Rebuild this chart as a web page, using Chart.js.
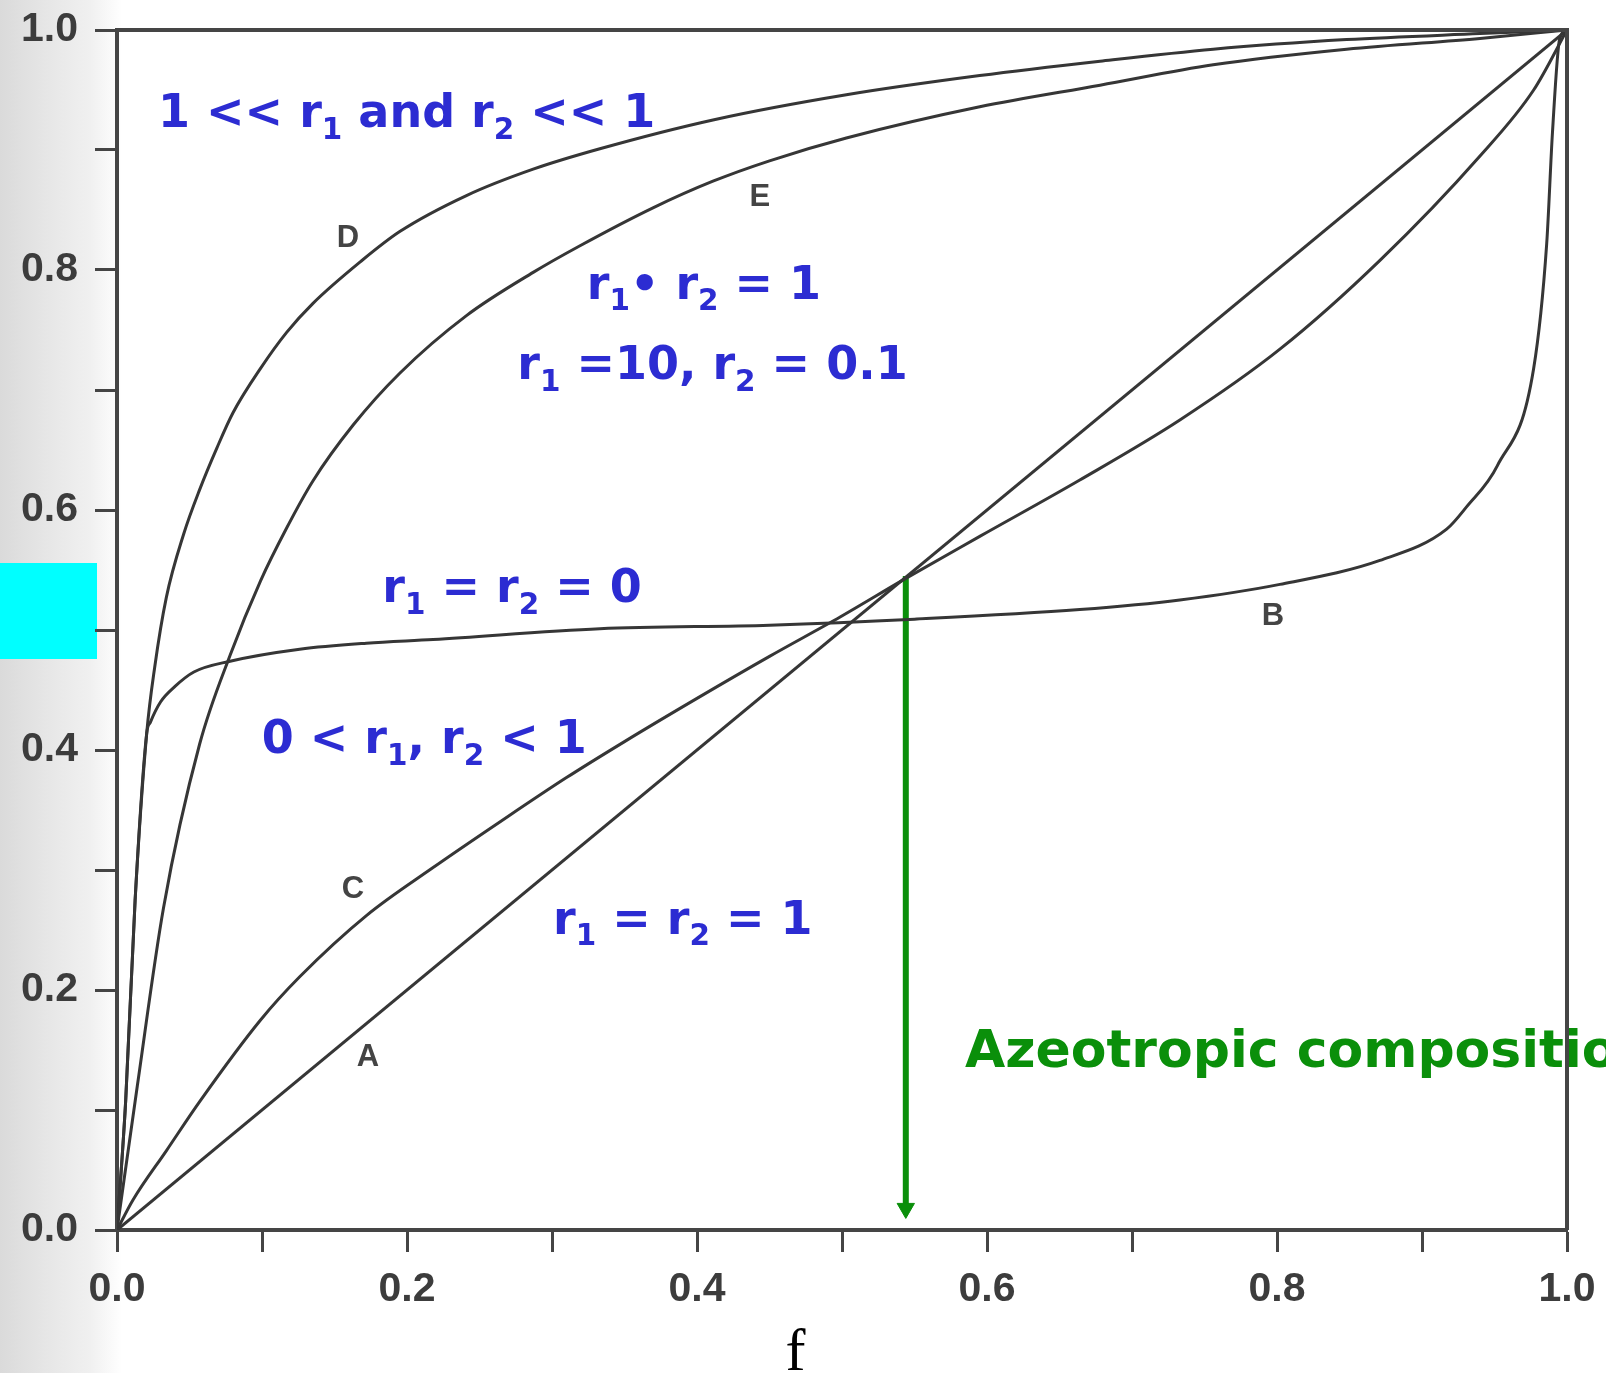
<!DOCTYPE html>
<html>
<head>
<meta charset="utf-8">
<title>Copolymer composition curves</title>
<script src="https://cdn.jsdelivr.net/npm/chart.js@4.4.1/dist/chart.umd.min.js"></script>
<style>
  html, body { margin: 0; padding: 0; }
  body {
    width: 1606px; height: 1373px; overflow: hidden;
    background: linear-gradient(90deg, #dadada 0px, #e6e6e6 45px, #f0f0f0 90px, #ffffff 122px);
  }
  #wrap { position: relative; width: 1606px; height: 1373px; }
  #patch { position: absolute; left: 0; top: 563px; width: 97px; height: 96px; background: #00ffff; }
  #chart { position: absolute; left: 0; top: 0; }
</style>
</head>
<body>
<div id="wrap">
  <div id="patch"></div>
  <canvas id="chart" width="1606" height="1373"></canvas>
</div>
<script>
// feed fraction f (x) against copolymer fraction F (y), one pair of arrays per curve
const fA = [0, 1];
const FA = [0, 1];

const fB = [0, 0.006, 0.0125, 0.0205, 0.023, 0.030, 0.040, 0.053, 0.078, 0.126, 0.172, 0.218, 0.333, 0.45, 0.55, 0.664, 0.733, 0.802, 0.871, 0.917, 0.931, 0.952, 0.977, 0.986, 0.990, 0.995, 1];
const FB = [0, 0.108, 0.275, 0.414, 0.423, 0.440, 0.453, 0.465, 0.474, 0.484, 0.489, 0.492, 0.501, 0.504, 0.509, 0.517, 0.525, 0.538, 0.558, 0.584, 0.603, 0.637, 0.718, 0.822, 0.915, 0.993, 1];

const fC = [0, 0.011, 0.034, 0.057, 0.099, 0.126, 0.172, 0.218, 0.264, 0.310, 0.35, 0.40, 0.45, 0.499, 0.544, 0.595, 0.664, 0.733, 0.802, 0.871, 0.940, 0.977, 1];
const FC = [0, 0.025, 0.066, 0.107, 0.175, 0.211, 0.262, 0.302, 0.340, 0.377, 0.407, 0.443, 0.478, 0.511, 0.543, 0.578, 0.625, 0.675, 0.734, 0.808, 0.895, 0.950, 1];

const fD = [0, 0.006, 0.0125, 0.0205, 0.026, 0.034, 0.046, 0.057, 0.069, 0.080, 0.099, 0.117, 0.135, 0.168, 0.195, 0.241, 0.287, 0.333, 0.411, 0.503, 0.595, 0.678, 0.756, 0.848, 0.940, 1];
const FD = [0, 0.108, 0.275, 0.414, 0.469, 0.527, 0.580, 0.617, 0.652, 0.681, 0.718, 0.748, 0.772, 0.807, 0.832, 0.862, 0.884, 0.901, 0.925, 0.946, 0.962, 0.974, 0.984, 0.992, 0.997, 1];

const fE = [0, 0.014, 0.032, 0.057, 0.078, 0.099, 0.117, 0.135, 0.163, 0.195, 0.241, 0.287, 0.319, 0.37, 0.411, 0.45, 0.503, 0.595, 0.678, 0.756, 0.848, 0.940, 1];
const FE = [0, 0.120, 0.268, 0.405, 0.479, 0.541, 0.585, 0.624, 0.671, 0.714, 0.762, 0.798, 0.820, 0.852, 0.874, 0.891, 0.910, 0.936, 0.954, 0.971, 0.984, 0.993, 1];

// azeotrope marker: drop line from the crossing point down to the f axis
const fAzeo = [0.544, 0.544];
const FAzeo = [0.545, 0.018];

const toPoints = (xs, ys) => xs.map((v, i) => ({ x: v, y: ys[i] }));

const BLUE = '#2c2cd2';
const GREEN = '#0a8f0a';
const INK = '#363636';
const AXIS = '#454545';

const blueFont = { family: '"DejaVu Sans", Verdana, sans-serif', weight: 'bold', size: 46, color: BLUE };
const letterFont = { family: '"Liberation Sans", Arial, sans-serif', weight: 'bold', size: 31, color: '#444' };

// text placed in data coordinates; [text, isSubscript]
const notes = [
  { ...blueFont, x: 0.0283, y: 0.919, parts: [['1 << r'], ['1', 1], [' and r'], ['2', 1], [' << 1']] },
  { ...blueFont, x: 0.324, y: 0.776, parts: [['r'], ['1', 1], ['\u2022 r'], ['2', 1], [' = 1']] },
  { ...blueFont, x: 0.276, y: 0.709, parts: [['r'], ['1', 1], [' =10, r'], ['2', 1], [' = 0.1']] },
  { ...blueFont, x: 0.183, y: 0.523, parts: [['r'], ['1', 1], [' = r'], ['2', 1], [' = 0']] },
  { ...blueFont, x: 0.0998, y: 0.3975, parts: [['0 < r'], ['1', 1], [', r'], ['2', 1], [' < 1']] },
  { ...blueFont, x: 0.3007, y: 0.2467, parts: [['r'], ['1', 1], [' = r'], ['2', 1], [' = 1']] },
  { family: '"DejaVu Sans", Verdana, sans-serif', weight: 'bold', size: 52, color: GREEN,
    x: 0.5848, y: 0.136, parts: [['Azeotropic composition']] },
  { ...letterFont, align: 'center', x: 0.1593, y: 0.819, parts: [['D']] },
  { ...letterFont, align: 'center', x: 0.4434, y: 0.8533, parts: [['E']] },
  { ...letterFont, align: 'center', x: 0.1628, y: 0.2767, parts: [['C']] },
  { ...letterFont, align: 'center', x: 0.1731, y: 0.1363, parts: [['A']] },
  { ...letterFont, align: 'center', x: 0.7972, y: 0.5042, parts: [['B']] },
  { family: '"Liberation Serif", "Times New Roman", serif', weight: 'normal', size: 60, color: '#000',
    align: 'center', x: 0.468, y: -0.1167, parts: [['f']] }
];

const notesPlugin = {
  id: 'notes',
  afterDatasetsDraw(chart) {
    const { ctx, chartArea, scales: { x, y } } = chart;
    ctx.save();
    ctx.textBaseline = 'alphabetic';
    notes.forEach(n => {
      let px = x.getPixelForValue(n.x);
      const py = y.getPixelForValue(n.y);
      ctx.fillStyle = n.color;
      ctx.textAlign = n.align || 'left';
      n.parts.forEach(([t, sub]) => {
        const size = sub ? n.size * 0.64 : n.size;
        ctx.font = `${n.weight} ${size}px ${n.family}`;
        ctx.fillText(t, px, py + (sub ? n.size * 0.25 : 0));
        px += ctx.measureText(t).width;
      });
    });
    // closing frame on the top and right
    ctx.strokeStyle = AXIS;
    ctx.lineWidth = 4;
    ctx.beginPath();
    ctx.moveTo(chartArea.left - 2, chartArea.top);
    ctx.lineTo(chartArea.right, chartArea.top);
    ctx.lineTo(chartArea.right, chartArea.bottom);
    ctx.stroke();
    ctx.restore();
  }
};

const curve = (label, xs, ys) => ({
  label,
  data: toPoints(xs, ys),
  borderColor: INK,
  borderWidth: 3,
  pointRadius: 0,
  cubicInterpolationMode: 'monotone',
  fill: false
});

const tickFont = { family: '"Liberation Sans", Arial, sans-serif', size: 41, weight: 'bold' };
const tickLabel = v => (Math.round(v * 10) % 2 === 0 ? v.toFixed(1) : '');

const axis = (extra) => ({
  type: 'linear',
  min: 0,
  max: 1,
  border: { display: true, color: AXIS, width: 4 },
  grid: { drawOnChartArea: false, drawTicks: true, tickLength: 22, tickWidth: 3, tickColor: AXIS },
  ...extra
});

// fixed plot box: the layout padding alone decides where the frame sits
const fixX = s => { s.height = 143; s.paddingLeft = 0; s.paddingRight = 0; };
const fixY = s => { s.width = 117; s.paddingTop = 0; s.paddingBottom = 0; };

new Chart(document.getElementById('chart'), {
  type: 'line',
  data: {
    datasets: [
      curve('A', fA, FA),
      curve('B', fB, FB),
      curve('C', fC, FC),
      curve('D', fD, FD),
      curve('E', fE, FE),
      {
        label: 'Azeotropic composition',
        data: toPoints(fAzeo, FAzeo),
        borderColor: GREEN,
        backgroundColor: GREEN,
        borderWidth: 6,
        pointStyle: 'triangle',
        pointRotation: 180,
        pointRadius: [0, 10],
        pointBorderWidth: 1,
        tension: 0
      }
    ]
  },
  options: {
    responsive: false,
    animation: false,
    events: [],
    layout: { padding: { top: 30, right: 39, bottom: 0, left: 0 } },
    plugins: { legend: { display: false }, tooltip: { enabled: false } },
    scales: {
      x: axis({ position: 'bottom', afterFit: fixX,
        ticks: { stepSize: 0.1, autoSkip: false, maxRotation: 0, padding: 13, color: '#3c3c3c', font: tickFont, callback: tickLabel } }),
      y: axis({ position: 'left', afterFit: fixY,
        ticks: { stepSize: 0.1, autoSkip: false, padding: 17, color: '#3c3c3c', font: tickFont, callback: tickLabel } })
    }
  },
  plugins: [notesPlugin]
});
</script>
</body>
</html>
